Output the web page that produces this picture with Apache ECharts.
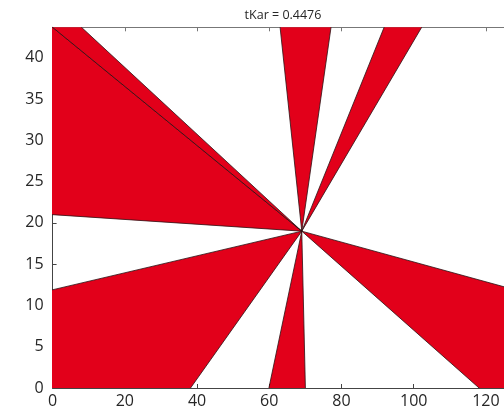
<!DOCTYPE html>
<html>
<head>
<meta charset="utf-8">
<script src="https://cdn.jsdelivr.net/npm/echarts@6/dist/echarts.min.js"></script>
<style>
html,body{margin:0;padding:0;background:#fff;}
#chart{width:504px;height:410px;}
</style>
</head>
<body>
<div id="chart"></div>
<script>
// Title
const titleText = 'tKar = 0.4476';
// Common apex of all wedges (data coords)
const center = [69, 19];
// Each wedge: where its two edges meet the plot frame [x1, y1, x2, y2]
const wedgeX1 = [0, 0, 63.0, 91.8, 124.7, 70.0, 38.2];
const wedgeY1 = [21.0, 43.7, 43.7, 43.7, 12.3, 0, 0];
const wedgeX2 = [0, 8.0, 77.1, 102.2, 118.1, 59.9, 0];
const wedgeY2 = [43.7, 43.7, 43.7, 43.7, 0, 0, 11.9];
// Axes
const xTicks = [0, 20, 40, 60, 80, 100, 120];
const yTicks = [0, 5, 10, 15, 20, 25, 30, 35, 40];
const xMax = 125, yMax = 43.7;

const wedges = wedgeX1.map((x, i) => [x, wedgeY1[i], wedgeX2[i], wedgeY2[i]]);

const chart = echarts.init(document.getElementById('chart'));
const axisColor = '#444';
const labelFont = {color: '#262626', fontSize: 16, fontFamily: 'Open Sans'};

chart.setOption({
  animation: false,
  backgroundColor: '#fff',
  title: {
    text: titleText,
    left: 278, top: 4, textAlign: 'center',
    textStyle: {fontSize: 12.5, fontWeight: 'normal', color: '#262626', fontFamily: 'Open Sans'}
  },
  grid: {left: 52.6, right: -1, top: 27.3, bottom: 22},
  xAxis: [{
    type: 'value', min: 0, max: xMax, interval: 20,
    axisLine: {show: true, onZero: false, lineStyle: {color: axisColor, width: 1}},
    axisTick: {show: true, inside: true, length: 4, lineStyle: {color: axisColor}},
    axisLabel: Object.assign({margin: 5, showMaxLabel: false,
      formatter: v => xTicks.indexOf(v) >= 0 ? String(v) : ''}, labelFont),
    splitLine: {show: false}
  }, {
    type: 'value', position: 'top', min: 0, max: xMax, interval: 20,
    axisLine: {show: true, onZero: false, lineStyle: {color: '#777', width: 1}},
    axisTick: {show: true, inside: true, length: 4, lineStyle: {color: '#777'}},
    axisLabel: {show: false},
    splitLine: {show: false}
  }],
  yAxis: {
    type: 'value', min: 0, max: yMax, interval: 5,
    axisLine: {show: true, onZero: false, lineStyle: {color: axisColor, width: 1}},
    axisTick: {show: true, inside: true, length: 4, lineStyle: {color: axisColor}},
    axisLabel: Object.assign({margin: 9, showMaxLabel: false,
      formatter: v => yTicks.indexOf(v) >= 0 ? String(v) : ''}, labelFont),
    splitLine: {show: false}
  },
  series: [{
    type: 'custom',
    clip: true,
    data: wedges,
    renderItem: function (params, api) {
      const c = api.coord(center);
      const p1 = api.coord([api.value(0), api.value(1)]);
      const p2 = api.coord([api.value(2), api.value(3)]);
      const k = 4;
      const e1 = [c[0] + (p1[0] - c[0]) * k, c[1] + (p1[1] - c[1]) * k];
      const e2 = [c[0] + (p2[0] - c[0]) * k, c[1] + (p2[1] - c[1]) * k];
      return {
        type: 'polygon',
        shape: {points: [c, e1, e2]},
        style: {fill: '#e2001a', stroke: '#2a1214', lineWidth: 0.8}
      };
    }
  }]
});
</script>
</body>
</html>
